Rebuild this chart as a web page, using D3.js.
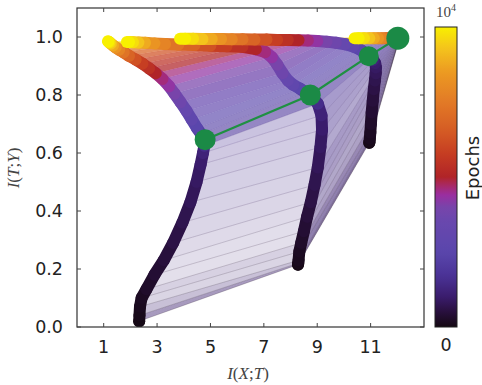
<!DOCTYPE html>
<html><head><meta charset="utf-8">
<script src="https://cdn.jsdelivr.net/npm/d3@7"></script>
<style>body{margin:0;background:#fff}</style>
</head><body>
<svg id="c" width="482" height="385"></svg>
<script>
// ---- data ----
const epochs = [0,50,100,150,200,300,400,500,600,700,800,900,1000,1200,1500,
  1800,2100,2500,2900,3300,3700,4000,4300,4600,5000,5400,5800,6300,6800,7300,7800,8300,8800,9300,9700,10000];
const layerAx = [2.33,2.34,2.36,2.42,2.6,2.9,3.25,3.6,3.95,4.25,4.48,4.63,4.72,4.77,4.8,
  4.65,4.5,4.3,4.1,3.88,3.65,3.45,3.2,2.95,2.7,2.45,2.2,1.95,1.75,1.58,1.45,1.35,1.27,1.22,1.18,1.16];
const layerAy = [0.02,0.04,0.07,0.10,0.13,0.18,0.23,0.29,0.36,0.43,0.50,0.56,0.60,0.625,0.646,
  0.665,0.685,0.715,0.745,0.775,0.805,0.83,0.855,0.875,0.892,0.908,0.922,0.935,0.947,0.956,0.964,0.971,0.977,0.981,0.984,0.985];
const layerBx = [8.28,8.29,8.3,8.33,8.4,8.5,8.62,8.76,8.9,9.02,9.12,9.18,9.16,9.02,8.74,
  8.55,8.35,8.1,7.9,7.7,7.5,7.3,7.05,6.7,6.2,5.6,5.0,4.4,3.8,3.3,2.9,2.55,2.3,2.1,1.95,1.87];
const layerBy = [0.215,0.22,0.23,0.26,0.29,0.33,0.38,0.43,0.49,0.55,0.62,0.68,0.73,0.77,0.80,
  0.81,0.822,0.835,0.85,0.875,0.905,0.93,0.948,0.958,0.966,0.968,0.97,0.972,0.974,0.976,0.978,0.98,0.981,0.982,0.983,0.983];
const layerCx = [10.95,10.96,10.97,10.99,11.01,11.04,11.08,11.12,11.16,11.19,11.2,11.17,11.1,11.02,10.93,
  10.8,10.6,10.35,10.05,9.7,9.35,9.0,8.65,8.3,7.9,7.5,7.1,6.65,6.2,5.8,5.4,5.05,4.7,4.35,4.05,3.86];
const layerCy = [0.635,0.64,0.65,0.67,0.70,0.74,0.78,0.82,0.85,0.875,0.895,0.91,0.92,0.928,0.934,
  0.945,0.957,0.967,0.975,0.98,0.984,0.986,0.988,0.989,0.99,0.99,0.991,0.991,0.992,0.992,0.993,0.993,0.993,0.994,0.994,0.994];
const layerDx = [12.05,12.05,12.05,12.05,12.05,12.04,12.04,12.04,12.03,12.03,12.03,12.03,12.02,12.02,12.02,
  12.02,12.02,12.01,12.0,12.0,11.98,11.96,11.94,11.9,11.85,11.8,11.74,11.65,11.55,11.42,11.28,11.12,10.95,10.75,10.55,10.4];
const layerDy = [0.985,0.986,0.987,0.988,0.989,0.99,0.991,0.992,0.993,0.993,0.994,0.994,0.995,0.995,0.996,
  0.996,0.996,0.996,0.996,0.996,0.996,0.996,0.996,0.996,0.996,0.996,0.996,0.996,0.996,0.996,0.996,0.996,0.996,0.996,0.996,0.996];
const greenEpoch = 1500;
const xTicks = [1,3,5,7,9,11];
const yTicks = [0,0.2,0.4,0.6,0.8,1.0];
const epochMax = 10000;

// ---- style ----
const cmapStops = [[0,'#140812'],[0.05,'#28103c'],[0.1,'#3a1c6c'],[0.17,'#4a3296'],[0.25,'#5a46ac'],
  [0.35,'#6848ae'],[0.40,'#7844aa'],[0.44,'#9a2ea0'],[0.47,'#a82a6a'],[0.50,'#b02428'],[0.57,'#c43a22'],
  [0.65,'#d45a24'],[0.75,'#e27a26'],[0.85,'#ec9a22'],[0.93,'#f4c41c'],[1,'#f8f000']];
const cmap = d3.scaleLinear().domain(cmapStops.map(d=>d[0])).range(cmapStops.map(d=>d[1])).interpolate(d3.interpolateRgb).clamp(true);
const tOf = d3.scaleLinear().domain([0, epochMax]).range([0,1]);

const svg = d3.select('#c');
const L = 77, R = 424, T = 8, B = 327;
const x = d3.scaleLinear().domain([0,13]).range([L,R]);
const y = d3.scaleLinear().domain([0,1.1]).range([B,T]);

const layers = [[layerAx,layerAy],[layerBx,layerBy],[layerCx,layerCy],[layerDx,layerDy]]
  .map(([xs,ys]) => xs.map((v,i)=>({x:x(v), y:y(ys[i]), e:epochs[i]})));

svg.append('clipPath').attr('id','clip').append('rect').attr('x',L).attr('y',T).attr('width',R-L).attr('height',B-T);
const g = svg.append('g').attr('clip-path','url(#clip)');

function alphaOf(t){
  if (t < 0.15) return 0.08 + t*1.8;
  if (t < 0.4) return 0.6 + (t-0.15)*0.6;
  return 0.72;
}
function fillCol(t){ return cmap(t < 0.25 ? t*0.6 + 0.1 : t); }
function polyArea(p){
  let s=0; for(let i=0;i<p.length;i++){const a=p[i],b=p[(i+1)%p.length]; s+=a.x*b.y-b.x*a.y;} return Math.abs(s)/2;
}

// fills between adjacent layers
const fills = g.append('g');
for (let k=0; k<epochs.length-1; k++){
  for (let l=0; l<layers.length-1; l++){
    const a=layers[l], b=layers[l+1];
    const pts=[a[k],b[k],b[k+1],a[k+1]];
    const t=tOf(epochs[k+1]);
    const ar = Math.max(1, polyArea(pts));
    const al = Math.max(alphaOf(t), Math.min(0.62, 250/ar));
    fills.append('path').attr('d', d3.line().x(d=>d.x).y(d=>d.y)(pts)+'Z')
      .attr('fill', fillCol(t)).attr('fill-opacity', al).attr('stroke','none');
  }
}
// thin lines connecting layers at each epoch
const thin = g.append('g');
for (let k=0; k<epochs.length; k++){
  const t=tOf(epochs[k]);
  thin.append('path').attr('d', d3.line().x(d=>d.x).y(d=>d.y)(layers.map(ly=>ly[k])))
    .attr('fill','none').attr('stroke', cmap(t)).attr('stroke-opacity', 0.3).attr('stroke-width',0.6);
}
// thick trajectories
const bands = g.append('g');
for (let k=0; k<epochs.length; k++){
  layers.forEach(ly=>{
    const p0 = ly[Math.max(0,k-1)], p1 = ly[k];
    bands.append('line').attr('x1',p0.x).attr('y1',p0.y).attr('x2',p1.x).attr('y2',p1.y)
      .attr('stroke', cmap(tOf(epochs[k]))).attr('stroke-width', 12).attr('stroke-linecap','round');
  });
}
// green epoch
const gi = epochs.indexOf(greenEpoch);
const gp = layers.map(ly=>ly[gi]);
g.append('path').attr('d', d3.line().x(d=>d.x).y(d=>d.y)(gp)).attr('fill','none')
  .attr('stroke','#1f9042').attr('stroke-width',2.2);
g.selectAll('circle.gd').data(gp).join('circle').attr('class','gd')
  .attr('cx',d=>d.x).attr('cy',d=>d.y).attr('r',(d,i)=> i===3 ? 11.5 : (i===2 ? 10 : 10.5))
  .attr('fill','#1b8a46');

// frame and ticks
svg.append('rect').attr('x',L).attr('y',T).attr('width',R-L).attr('height',B-T)
  .attr('fill','none').attr('stroke','#333').attr('stroke-width',1.2);
const tk = svg.append('g').attr('stroke','#444').attr('stroke-width',1);
xTicks.forEach(v=>{
  tk.append('line').attr('x1',x(v)).attr('x2',x(v)).attr('y1',B).attr('y2',B-4);
  tk.append('line').attr('x1',x(v)).attr('x2',x(v)).attr('y1',T).attr('y2',T+4);
});
yTicks.forEach(v=>{
  tk.append('line').attr('x1',L).attr('x2',L+4).attr('y1',y(v)).attr('y2',y(v));
  tk.append('line').attr('x1',R).attr('x2',R-4).attr('y1',y(v)).attr('y2',y(v));
});
const fmt = d3.format('.1f');
svg.append('g').selectAll('text').data(yTicks).join('text')
  .attr('x',63).attr('y',d=>y(d)).attr('dy','0.36em').attr('text-anchor','end')
  .attr('font-family','DejaVu Sans').attr('font-size',17.5).attr('fill','#222').text(d=>fmt(d));
svg.append('g').selectAll('text').data(xTicks).join('text')
  .attr('x',d=>x(d)).attr('y',353).attr('text-anchor','middle')
  .attr('font-family','DejaVu Sans').attr('font-size',17.5).attr('fill','#222').text(d=>d);

// axis labels (math style)
function mathLabel(sel, parts){
  parts.forEach(([s,it])=> sel.append('tspan').attr('font-style', it?'italic':'normal').text(s));
}
const xl = svg.append('text').attr('x',248).attr('y',379).attr('text-anchor','middle')
  .attr('font-family','Liberation Serif').attr('font-size',17).attr('fill','#444');
mathLabel(xl, [['I',1],['(',0],['X',1],[';',0],['T',1],[')',0]]);
const yl = svg.append('text').attr('transform','translate(19,168) rotate(-90)').attr('text-anchor','middle')
  .attr('font-family','Liberation Serif').attr('font-size',17).attr('fill','#444');
mathLabel(yl, [['I',1],['(',0],['T',1],[';',0],['Y',1],[')',0]]);

// colorbar
const defs = svg.append('defs');
const grad = defs.append('linearGradient').attr('id','cg').attr('x1',0).attr('y1',1).attr('x2',0).attr('y2',0);
d3.range(0,1.0001,0.02).forEach(t=> grad.append('stop').attr('offset',t).attr('stop-color',cmap(t)));
const cbX=435, cbW=22, cbT=27, cbB=327;
svg.append('rect').attr('x',cbX).attr('y',cbT).attr('width',cbW).attr('height',cbB-cbT)
  .attr('fill','url(#cg)').attr('stroke','#222').attr('stroke-width',1);
const cbTop = svg.append('text').attr('x',446).attr('y',17).attr('text-anchor','middle')
  .attr('font-family','Liberation Serif').attr('font-size',15).attr('fill','#444');
cbTop.append('tspan').text('10');
cbTop.append('tspan').attr('dy',-6).attr('font-size',10).text('4');
svg.append('text').attr('x',446).attr('y',351).attr('text-anchor','middle')
  .attr('font-family','DejaVu Sans').attr('font-size',17.5).attr('fill','#222').text('0');
svg.append('text').attr('transform','translate(479,168) rotate(-90)').attr('text-anchor','middle')
  .attr('font-family','DejaVu Sans').attr('font-size',18).attr('fill','#222').text('Epochs');
</script>
</body></html>
